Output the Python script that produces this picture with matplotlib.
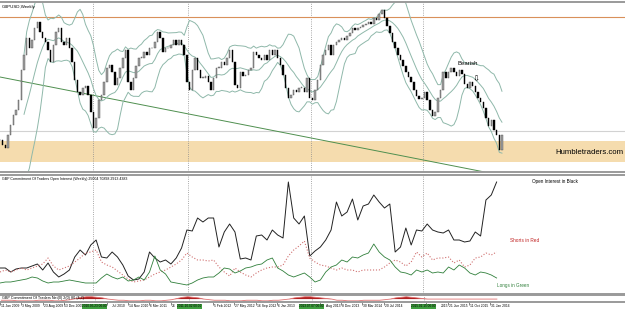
import numpy as np
import pandas as pd
import matplotlib
matplotlib.use('Agg')
import matplotlib.pyplot as plt

plt.rcParams['font.family'] = ['Liberation Sans', 'DejaVu Sans']

# GBPUSD weekly, one close every 2 weeks, first visible bar 2009-01-18
start = pd.Timestamp('2009-01-18')
px_per_week = 1.335

close = [1.460, 1.450, 1.444, 1.470, 1.490, 1.510, 1.520, 1.540, 1.600, 1.630,
         1.664, 1.644, 1.660, 1.684, 1.696, 1.676, 1.664, 1.656, 1.640, 1.616,
         1.650, 1.676, 1.684, 1.656, 1.650, 1.664, 1.644, 1.616, 1.580, 1.556,
         1.550, 1.564, 1.568, 1.550, 1.516, 1.484, 1.504, 1.540, 1.550, 1.576,
         1.604, 1.610, 1.596, 1.570, 1.584, 1.604, 1.624, 1.640, 1.576, 1.560,
         1.584, 1.608, 1.624, 1.624, 1.636, 1.630, 1.644, 1.644, 1.656, 1.676,
         1.664, 1.636, 1.644, 1.644, 1.650, 1.660, 1.650, 1.660, 1.650, 1.630,
         1.576, 1.560, 1.600, 1.624, 1.600, 1.584, 1.584, 1.588, 1.576, 1.560,
         1.584, 1.604, 1.604, 1.616, 1.610, 1.624, 1.640, 1.616, 1.570, 1.564,
         1.596, 1.588, 1.590, 1.600, 1.604, 1.636, 1.630, 1.624, 1.620, 1.630,
         1.620, 1.640, 1.630, 1.640, 1.624, 1.610, 1.590, 1.564, 1.544, 1.550,
         1.560, 1.556, 1.564, 1.564, 1.556, 1.584, 1.544, 1.540, 1.560, 1.580,
         1.610, 1.630, 1.640, 1.650, 1.630, 1.650, 1.656, 1.660, 1.664, 1.660,
         1.668, 1.674, 1.684, 1.680, 1.684, 1.686, 1.690, 1.692, 1.696, 1.692,
         1.704, 1.700, 1.712, 1.720, 1.704, 1.688, 1.674, 1.656, 1.644, 1.630,
         1.620, 1.608, 1.596, 1.586, 1.576, 1.560, 1.548, 1.542, 1.544, 1.556,
         1.540, 1.520, 1.508, 1.516, 1.544, 1.560, 1.596, 1.584, 1.596, 1.604,
         1.596, 1.588, 1.600, 1.592, 1.572, 1.564, 1.576, 1.568, 1.556, 1.544,
         1.536, 1.524, 1.504, 1.488, 1.500, 1.480, 1.470, 1.440, 1.470]

# COT figures (thousand contracts), one value every 4 weeks
open_interest = [52, 52, 44, 50, 52, 52, 56, 60, 48, 62, 44, 34, 40, 48, 74, 88, 78, 98, 108, 74,
                 72, 84, 74, 58, 36, 28, 30, 44, 84, 72, 64, 68, 60, 72, 92, 128, 126, 152, 144, 152,
                 152, 94, 124, 140, 124, 70, 72, 68, 116, 118, 108, 128, 118, 112, 224, 152, 140, 156, 76, 86,
                 94, 108, 128, 184, 156, 164, 190, 148, 176, 180, 198, 184, 172, 180, 84, 94, 132, 98, 128, 126,
                 140, 128, 124, 122, 128, 108, 108, 104, 106, 124, 116, 188, 198, 224]
shorts = [44, 48, 44, 48, 52, 48, 52, 56, 60, 72, 56, 48, 52, 56, 64, 72, 82, 84, 88, 64,
          58, 54, 46, 38, 30, 24, 26, 28, 34, 40, 44, 48, 54, 60, 68, 82, 74, 68, 68, 66,
          68, 54, 44, 36, 52, 44, 38, 34, 42, 48, 52, 54, 54, 58, 76, 88, 96, 106, 72, 64,
          58, 56, 52, 48, 52, 48, 48, 44, 48, 48, 48, 48, 54, 62, 68, 64, 56, 64, 84, 74,
          82, 68, 72, 72, 74, 62, 68, 54, 58, 72, 74, 82, 78, 84]
longs = [22, 24, 24, 26, 28, 30, 34, 32, 26, 22, 24, 24, 26, 28, 26, 24, 22, 22, 22, 32,
         40, 34, 30, 34, 26, 28, 34, 28, 44, 76, 48, 40, 24, 22, 20, 18, 22, 28, 32, 34,
         34, 42, 52, 50, 42, 46, 52, 54, 58, 60, 68, 72, 52, 46, 38, 34, 38, 42, 34, 24,
         28, 44, 54, 58, 68, 64, 74, 72, 78, 82, 100, 84, 74, 68, 54, 44, 42, 38, 48, 44,
         48, 42, 44, 42, 54, 48, 58, 52, 42, 38, 44, 42, 38, 32]
net = [3, 3, 3, 2, 2, 2, 2, 3, 3, 3, 2, 2, 3, 4, 6, 8, 9, 9, 8, 7,
       5, 4, 3, 3, 2, 2, 2, 3, 3, 2, 2, 3, 4, 6, 8, 9, 8, 7, 5, 4,
       3, 3, 3, 2, 2, 2, 3, 3, 3, 2, 2, 3, 3, 4, 5, 7, 8, 9, 9, 8,
       7, 6, 5, 3, 3, 2, 2, 2, 3, 3, 3, 3, 4, 5, 7, 8, 9, 8, 7, 6,
       5, 5, 5, 5, 5, 5, 5, 5, 5, 5, 5, 5, 5, 5]

# date scale labels; the ones partly under a vertical-line box only show their tail
tick_dates = ['2009-01-11', '2009-05-03', '2009-08-23', '2009-12-13', '2010-07-25', '2010-11-14',
              '2011-03-06', '2011-06-26', '2012-02-05', '2012-05-27', '2012-09-16', '2013-01-06',
              '2013-08-18', '2013-12-08', '2014-03-30', '2014-07-20', '2015-03-01', '2015-06-21',
              '2015-10-11', '2016-01-31']
tick_text = ['11 Jan 2009', '3 May 2009', '23 Aug 2009', '13 Dec 2009', 'Jul 2010', '14 Nov 2010',
             '6 Mar 2011', '26', '5 Feb 2012', '27 May 2012', '16 Sep 2012', '6 Jan 2013',
             'Aug 2013', '8 Dec 2013', '30 Mar 2014', '20 Jul 2014', '2015', '21 Jun 2015',
             '11 Oct 2015', '31 Jan 2016']
tick_shift = [1, 1, 1, 0, 5, 1, 1, 1, 1, 1, 1, 1, 6, 1, 1, 1, 15, 1, 1, 1]   # px
vline_dates = ['2010-05-23', '2011-10-02', '2013-07-07', '2015-02-15']

resistance = 1.706
support = 1.478
zone_low, zone_high = 1.416, 1.458
trend_dates = ['2009-01-18', '2016-01-03']
trend_prices = [1.586, 1.396]


def weeks(d):
    return (pd.Timestamp(d) - start).days / 7.0


price_x = np.arange(len(close)) * 2
cot_x = np.arange(len(open_interest)) * 4

c = pd.Series(close)
mid = c.rolling(10).mean()
sd = c.rolling(10).std(ddof=0)
upper = mid + 2 * sd
lower = mid - 2 * sd
opens = np.array([close[0]] + close[:-1])
closes = np.array(close)

W, H = 625, 312
xmax = W / px_per_week
fig = plt.figure(figsize=(6.25, 3.12), dpi=100)


def box(top, bottom):
    return [0, 1 - bottom / H, 1, (bottom - top) / H]


ax1 = fig.add_axes(box(2, 172))
ax2 = fig.add_axes(box(175, 294))
ax3 = fig.add_axes(box(295, 302))

for ax in (ax1, ax2, ax3):
    ax.set_xlim(0, xmax)
    ax.set_yticks([])
    for s in ('left', 'right'):
        ax.spines[s].set_visible(False)
    for s in ('top', 'bottom'):
        ax.spines[s].set_color('#9a9a9a')
        ax.spines[s].set_linewidth(1.4)
    for d in vline_dates:
        ax.axvline(weeks(d), color='#8c8c8c', ls=':', lw=0.6, zorder=1)
ax1.set_xticks([])
ax2.set_xticks([])

# price panel
ax1.set_ylim(1.396, 1.736)
ax1.axhspan(zone_low, zone_high, color='#f5dcae', lw=0, zorder=0)
ax1.axhline(resistance, color='#d9905a', lw=0.8)
ax1.axhline(support, color='#d2d2d2', lw=0.8)
tx = [weeks(d) for d in trend_dates]
slope = (trend_prices[1] - trend_prices[0]) / (tx[1] - tx[0])
ax1.plot([0, tx[1]], [trend_prices[0] - slope * tx[0], trend_prices[1]], color='#4f8f4f', lw=0.7)

for band in (upper, mid, lower):
    ax1.plot(price_x, band, color='#8fb8aa', lw=0.7)

up = closes >= opens
bottoms = np.minimum(opens, closes)
heights = np.maximum(np.abs(closes - opens), 0.001)
ax1.bar(price_x[up], heights[up], bottom=bottoms[up], width=1.1, color='#a0a0a0',
        edgecolor='#505050', linewidth=0.3, zorder=3)
ax1.bar(price_x[~up], heights[~up], bottom=bottoms[~up], width=1.1, color='black',
        edgecolor='black', linewidth=0.3, zorder=3)

ax1.text(2 / W, 0.985, 'GBPUSD,Weekly', transform=ax1.transAxes, fontsize=3.2, va='top')
ax1.text(343, 1.612, 'Bearish', fontsize=4.3, va='center')
ax1.text(356.5, 1.582, '\u21e9', fontsize=6, ha='center', va='center', family='DejaVu Sans')
ax1.text(415.7, 1.436, 'Humbletraders.com', fontsize=5.6, va='center')

# COT panel
ax2.set_ylim(0, 238)
ax2.plot(cot_x, open_interest, color='#222222', lw=0.7)
ax2.plot(cot_x, shorts, color='#d07070', lw=0.8, ls=':')
ax2.plot(cot_x, longs, color='#2f7f3a', lw=0.6)
ax2.text(2 / W, 0.985, 'GBP Commitment Of Traders Open Interest (Weekly) 25004 70898 2913 4383',
         transform=ax2.transAxes, fontsize=2.6, va='top')
ax2.text(398.5, 224, 'Open Interest in Black', fontsize=3.3, va='center')
ax2.text(382, 106, 'Shorts in Red', fontsize=3.4, va='center', color='#c02020')
ax2.text(372, 18, 'Longs in Green', fontsize=3.3, va='center', color='#2f7f3a')

# net panel
ax3.set_ylim(0, 12)
net = np.array(net)
ax3.plot(cot_x, net, color='#e07070', lw=0.6)
ax3.fill_between(cot_x, 5, net, where=net > 5, color='#b02020', lw=0, interpolate=True)
ax3.text(2 / W, 0.9, 'GBP Commitment Of Traders Net(0) 2(0) 80 (4,7)',
         transform=ax3.transAxes, fontsize=2.7, va='top')

ax3.set_xticks([weeks(d) for d in tick_dates])
ax3.set_xticklabels([])
ax3.tick_params(axis='x', length=2, width=0.5, color='#555555')
for d, t, sh in zip(tick_dates, tick_text, tick_shift):
    ax3.text(weeks(d) + sh / px_per_week, -0.6, t, transform=ax3.get_xaxis_transform(),
             ha='left', va='center', fontsize=2.45, clip_on=False)

for d in vline_dates:
    ax3.text(weeks(d), -0.6, pd.Timestamp(d).strftime('%Y.%m.%d 00:00'),
             transform=ax3.get_xaxis_transform(), ha='center', va='center', fontsize=2.25,
             bbox=dict(boxstyle='square,pad=0.15', fc='#3f9f3f', ec='none'), zorder=10, clip_on=False)

fig.savefig('out.png', dpi=100, facecolor='white')
